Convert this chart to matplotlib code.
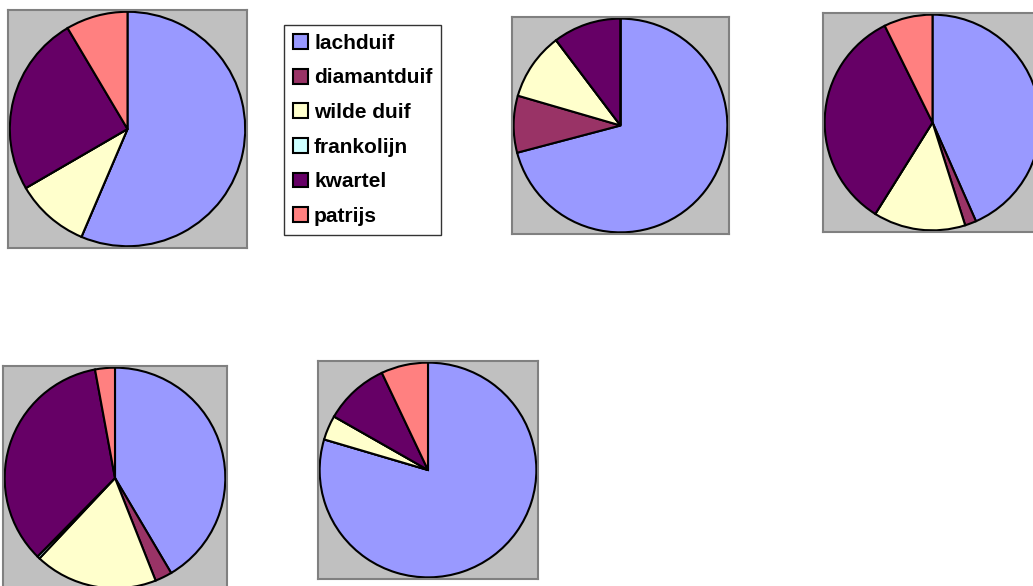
import matplotlib
matplotlib.use('Agg')
import matplotlib.pyplot as plt
from matplotlib.patches import Patch

plt.rcParams['font.family'] = ['Liberation Sans', 'DejaVu Sans']

# soorten (volgorde van de legenda)
species = ['lachduif', 'diamantduif', 'wilde duif', 'frankolijn', 'kwartel', 'patrijs']
colors = ['#9999FF', '#993366', '#FFFFCC', '#CCFFFF', '#660066', '#FF8080']

pie1 = [56.4, 0.0, 10.2, 0.0, 24.9, 8.5]
pie2 = [70.9, 8.6, 10.2, 0.0, 10.3, 0.0]
pie3 = [43.4, 1.7, 13.8, 0.0, 33.8, 7.3]
pie4 = [41.5, 2.5, 18.0, 0.4, 34.7, 2.9]
pie5 = [79.6, 0.0, 3.7, 0.0, 9.7, 7.0]

W, H = 1033, 586
fig = plt.figure(figsize=(W / 100, H / 100), dpi=100)

# kaders in pixels: (links, boven, rechts, onder)
boxes = [(8, 10, 247, 248), (512, 17, 729, 234), (823, 13, 1042, 232),
         (3, 366, 227, 590), (318, 361, 538, 579)]

for data, (x0, y0, x1, y1) in zip([pie1, pie2, pie3, pie4, pie5], boxes):
    ax = fig.add_axes([x0 / W, 1 - y1 / H, (x1 - x0) / W, (y1 - y0) / H])
    ax.pie(data, colors=colors, startangle=90, counterclock=False, radius=0.985,
           wedgeprops=dict(edgecolor='black', linewidth=1.5))
    ax.set_frame_on(True)
    ax.set_facecolor('#C0C0C0')
    ax.set_xlim(-1, 1)
    ax.set_ylim(-1, 1)
    ax.set_aspect('auto')
    ax.set_xticks([])
    ax.set_yticks([])
    for s in ax.spines.values():
        s.set_visible(True)
        s.set_color('#808080')
        s.set_linewidth(1.5)

handles = [Patch(facecolor=c, edgecolor='black', linewidth=1.5) for c in colors]
leg = fig.legend(handles, species, loc='upper left',
                 bbox_to_anchor=(284 / W, 1 - 25 / H), borderaxespad=0,
                 frameon=True, fancybox=False, edgecolor='black',
                 prop=dict(weight='bold', size=15),
                 handlelength=0.72, handleheight=0.72, handletextpad=0.3,
                 labelspacing=0.75, borderpad=0.42)
leg.get_frame().set_linewidth(1.0)

fig.savefig('out.png', dpi=100)
